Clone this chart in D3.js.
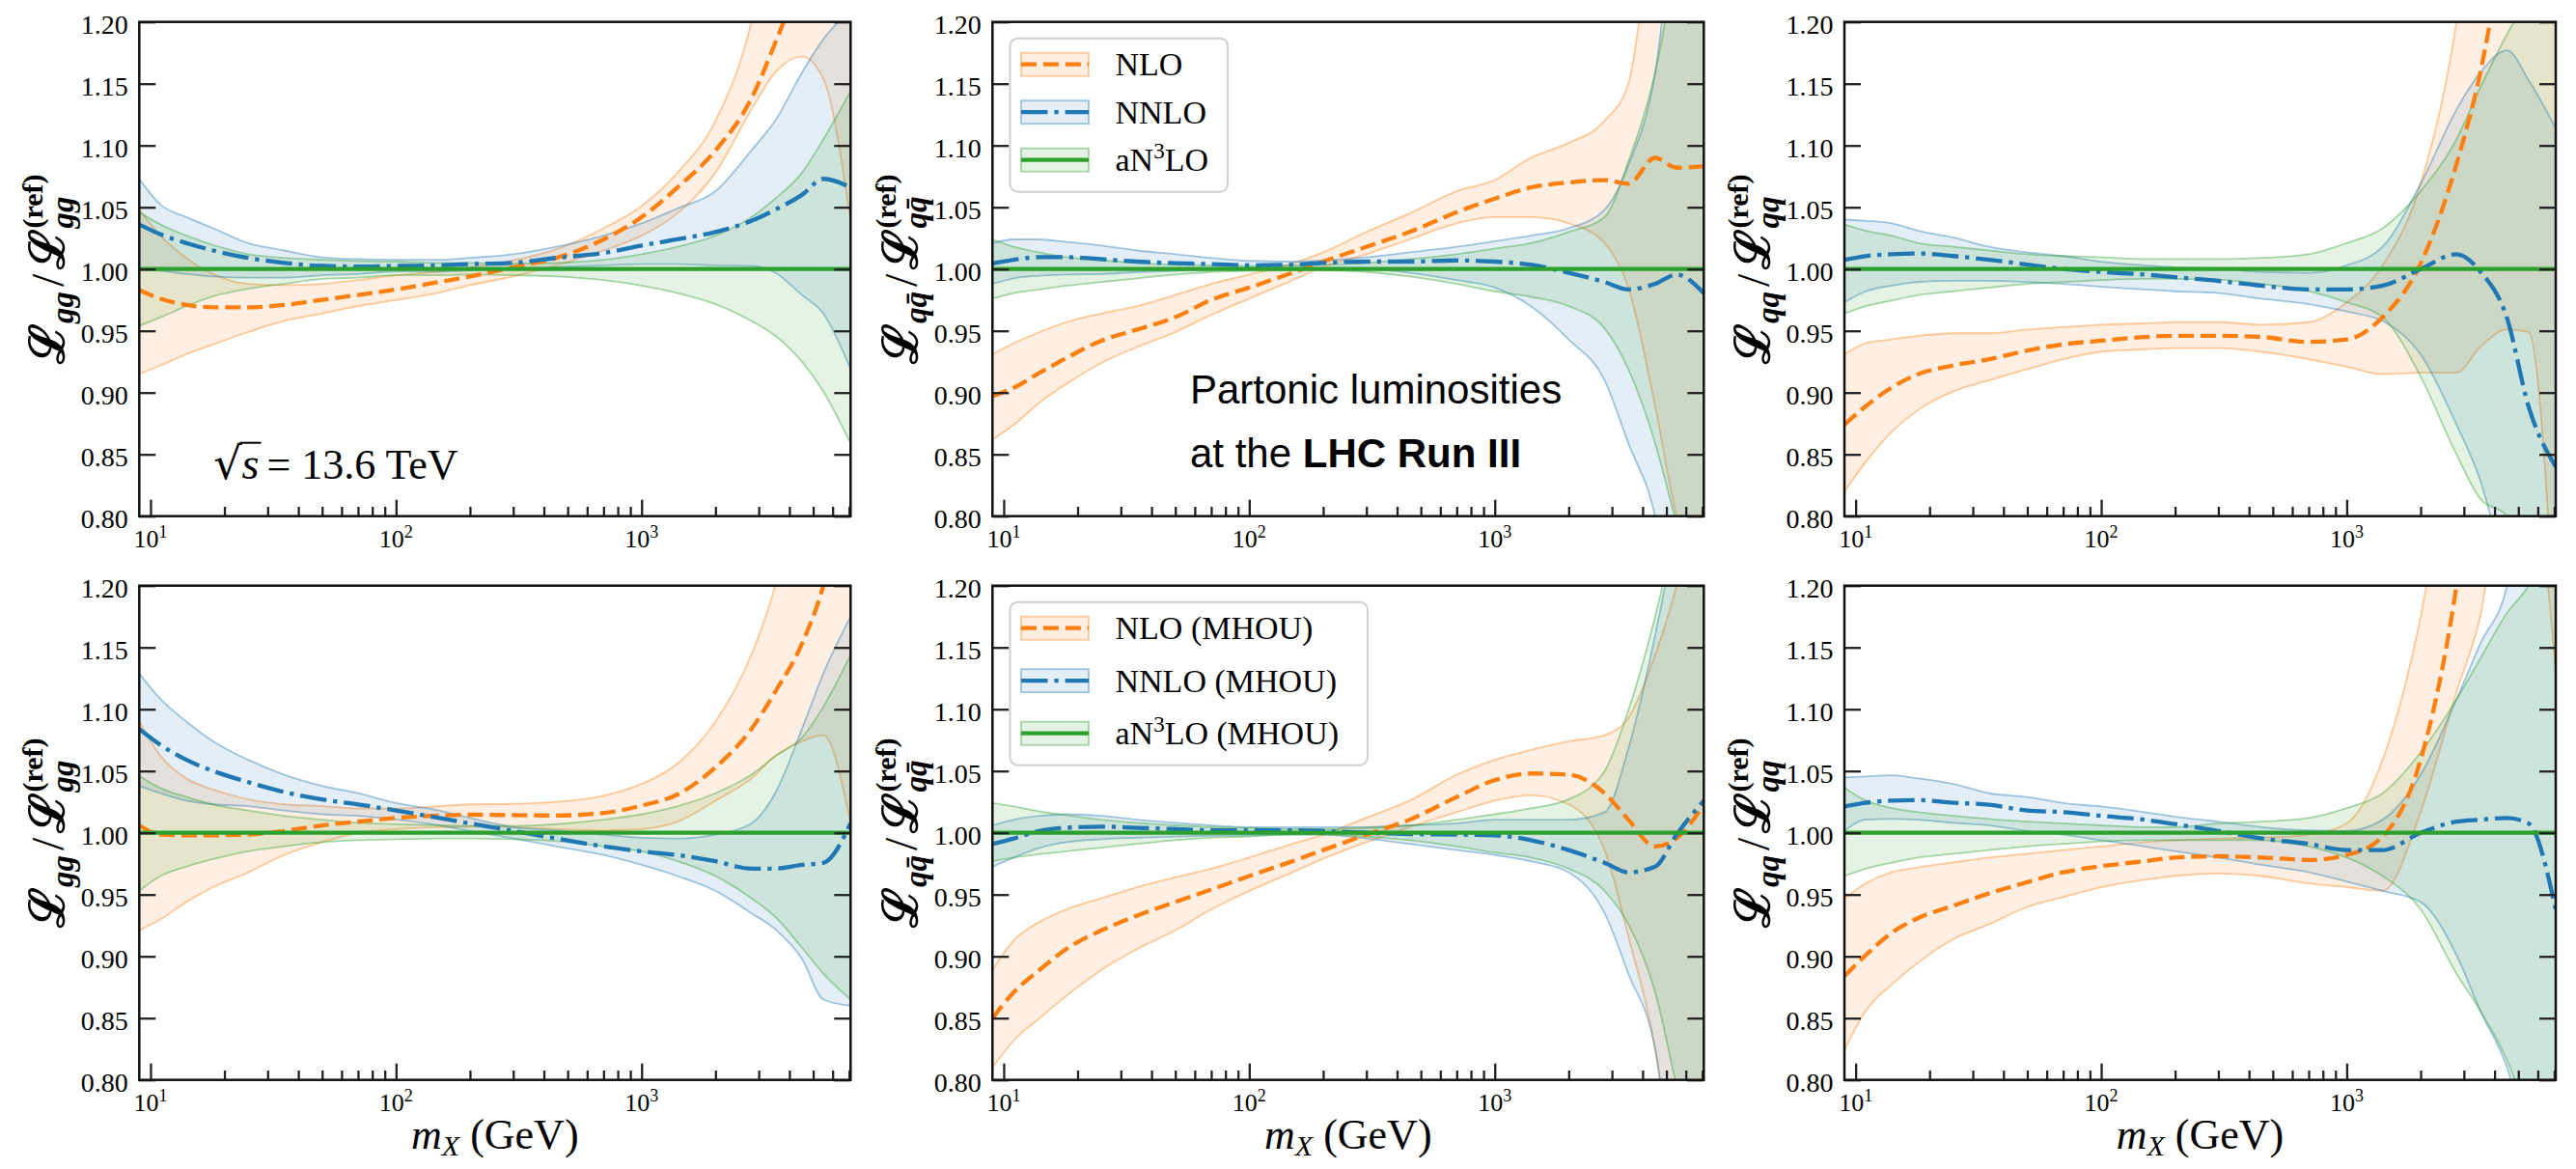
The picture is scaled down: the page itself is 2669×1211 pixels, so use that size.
<!DOCTYPE html>
<html><head><meta charset="utf-8">
<script src="https://cdn.jsdelivr.net/npm/d3@7"></script>
<style>body{margin:0;background:#fff}svg{display:block}</style>
</head><body>
<svg id="c" width="2669" height="1211"></svg>
<script>
// ---------------- DATA ----------------
const mx = [9, 11, 14, 18, 25, 35, 50, 70, 100, 150, 200, 300, 450, 700, 1000, 1400, 2000, 2800, 3500, 4500, 5500, 7100];
const ones = [1,1,1,1,1,1,1,1,1,1,1,1,1,1,1,1,1,1,1,1,1,1];

// gg (top-left)
const gg_nlo    = [0.983,0.976,0.971,0.969,0.969,0.971,0.975,0.979,0.9835,0.9895,0.994,1.0015,1.009,1.024,1.042,1.066,1.096,1.138,1.183,1.24,1.30,1.38];
const gg_nlo_hi = [1.048,1.027,1.009,0.996,0.988,0.987,0.988,0.991,0.995,0.998,1.0015,1.007,1.016,1.033,1.051,1.078,1.12,1.20,1.30,1.38,1.45,1.55];
const gg_nlo_lo = [0.915,0.922,0.931,0.939,0.949,0.958,0.964,0.970,0.975,0.981,0.987,0.994,1.003,1.015,1.027,1.045,1.078,1.129,1.159,1.172,1.154,1.039];
const gg_nnlo    = [1.036,1.028,1.021,1.015,1.009,1.005,1.0025,1.002,1.0025,1.003,1.004,1.005,1.009,1.013,1.019,1.024,1.030,1.039,1.048,1.060,1.073,1.066];
const gg_nnlo_hi = [1.073,1.052,1.042,1.033,1.021,1.015,1.0095,1.008,1.0075,1.0075,1.009,1.012,1.018,1.027,1.037,1.049,1.063,1.096,1.12,1.159,1.186,1.21];
const gg_nnlo_lo = [1.0,0.9985,0.996,0.994,0.993,0.993,0.995,0.996,0.998,0.998,0.999,1.0,1.0015,1.003,1.004,1.004,1.003,1.0025,0.997,0.979,0.964,0.919];
const gg_n3lo_hi = [1.046,1.036,1.027,1.0195,1.012,1.009,1.0075,1.0065,1.006,1.005,1.005,1.0045,1.005,1.0075,1.012,1.018,1.027,1.042,1.057,1.078,1.105,1.144];
const gg_n3lo_lo = [0.954,0.961,0.970,0.978,0.984,0.988,0.992,0.993,0.995,0.995,0.9955,0.995,0.994,0.991,0.9865,0.9805,0.9716,0.958,0.946,0.925,0.901,0.859];

// q qbar (top-middle)
const qb_nlo    = [0.897,0.904,0.916,0.928,0.942,0.951,0.961,0.975,0.985,0.997,1.006,1.018,1.030,1.046,1.057,1.066,1.070,1.072,1.069,1.090,1.082,1.083];
const qb_nlo_hi = [0.931,0.940,0.949,0.957,0.964,0.970,0.979,0.988,0.9955,1.0045,1.0135,1.030,1.045,1.063,1.072,1.090,1.102,1.120,1.150,1.30,1.40,1.50];
const qb_nlo_lo = [0.862,0.874,0.892,0.907,0.924,0.937,0.949,0.963,0.976,0.991,1.0015,1.012,1.024,1.037,1.042,1.042,1.037,1.021,0.985,0.889,0.80,0.74];
const qb_nnlo    = [1.0045,1.0075,1.0096,1.0096,1.008,1.006,1.0047,1.004,1.003,1.0035,1.005,1.006,1.006,1.007,1.006,1.0035,0.997,0.9895,0.9835,0.988,0.9955,0.9805];
const qb_nnlo_hi = [1.021,1.024,1.024,1.022,1.019,1.015,1.012,1.009,1.0066,1.006,1.007,1.0096,1.0135,1.018,1.0225,1.027,1.033,1.048,1.084,1.159,1.30,1.40];
const qb_nnlo_lo = [0.988,0.9925,0.9946,0.9955,0.996,0.9976,0.9985,0.9994,1.0,1.0005,1.0008,1.0,0.997,0.991,0.985,0.970,0.943,0.910,0.859,0.80,0.70,0.60];
const qb_n3lo_hi = [1.024,1.018,1.0135,1.0096,1.007,1.005,1.0035,1.003,1.0024,1.003,1.0035,1.005,1.008,1.012,1.0165,1.021,1.030,1.042,1.087,1.159,1.25,1.35];
const qb_n3lo_lo = [0.976,0.9805,0.9835,0.9865,0.9895,0.9925,0.9955,0.9976,0.9985,0.999,0.999,0.9976,0.994,0.988,0.982,0.9775,0.970,0.952,0.919,0.859,0.793,0.70];

// qq (top-right)
const qq_nlo    = [0.874,0.889,0.904,0.915,0.922,0.927,0.934,0.939,0.942,0.945,0.946,0.946,0.945,0.941,0.943,0.961,1.0045,1.085,1.159,1.28,1.38,1.50];
const qq_nlo_hi = [0.931,0.940,0.943,0.946,0.948,0.948,0.951,0.953,0.955,0.956,0.957,0.957,0.955,0.957,0.973,1.003,1.069,1.20,1.35,1.45,1.55,1.60];
const qq_nlo_lo = [0.820,0.844,0.868,0.886,0.901,0.910,0.919,0.927,0.933,0.935,0.936,0.936,0.933,0.927,0.921,0.915,0.916,0.916,0.937,0.951,0.949,0.70];
const qq_nnlo    = [1.0075,1.0105,1.012,1.0126,1.0105,1.0075,1.0036,1.0,0.9976,0.9955,0.9934,0.9904,0.9865,0.9835,0.9835,0.9865,1.0,1.012,0.998,0.960,0.889,0.840];
const qq_nnlo_hi = [1.040,1.039,1.037,1.031,1.0255,1.018,1.0135,1.0105,1.006,1.003,1.0015,1.0006,0.9976,0.997,1.003,1.018,1.069,1.129,1.159,1.177,1.153,1.114];
const qq_nnlo_lo = [0.973,0.982,0.9865,0.9895,0.9905,0.9905,0.9895,0.988,0.9856,0.9835,0.982,0.9805,0.976,0.9716,0.9656,0.958,0.931,0.874,0.829,0.75,0.70,0.65];
const qq_n3lo_hi = [1.036,1.031,1.027,1.021,1.018,1.015,1.012,1.0105,1.0096,1.008,1.008,1.008,1.009,1.012,1.021,1.033,1.063,1.105,1.147,1.19,1.22,1.25];
const qq_n3lo_lo = [0.964,0.970,0.9745,0.979,0.982,0.985,0.988,0.9895,0.991,0.992,0.992,0.9915,0.988,0.982,0.973,0.961,0.913,0.85,0.814,0.80,0.77,0.75];

// gg MHOU (bottom-left)
const ggm_nlo    = [1.006,0.9985,0.998,0.998,0.9985,1.0015,1.006,1.009,1.012,1.014,1.0146,1.0143,1.014,1.016,1.022,1.031,1.053,1.084,1.114,1.153,1.20,1.30];
const ggm_nlo_hi = [1.09,1.062,1.044,1.035,1.027,1.023,1.0216,1.0197,1.0197,1.0216,1.023,1.0234,1.025,1.030,1.0395,1.056,1.09,1.144,1.20,1.30,1.40,1.50];
const ggm_nlo_lo = [0.921,0.930,0.944,0.956,0.968,0.982,0.9924,1.0,1.003,1.0046,1.005,1.0046,1.003,1.002,1.003,1.009,1.026,1.044,1.062,1.074,1.079,1.0076];
const ggm_nnlo    = [1.084,1.071,1.059,1.050,1.041,1.033,1.027,1.023,1.018,1.012,1.0076,1.0015,0.9954,0.989,0.985,0.982,0.977,0.971,0.971,0.974,0.9757,1.0076];
const ggm_nnlo_hi = [1.129,1.108,1.090,1.074,1.059,1.047,1.038,1.032,1.024,1.018,1.012,1.0046,1.002,0.9985,0.996,0.9954,0.9985,1.0076,1.032,1.084,1.129,1.175];
const ggm_nnlo_lo = [1.038,1.032,1.026,1.023,1.0216,1.018,1.015,1.0137,1.0106,1.006,1.0015,0.9954,0.989,0.982,0.974,0.965,0.953,0.935,0.922,0.898,0.865,0.860];
const ggm_n3lo_hi = [1.046,1.036,1.029,1.023,1.018,1.0137,1.0106,1.008,1.007,1.006,1.0055,1.0055,1.007,1.0106,1.015,1.0216,1.032,1.047,1.062,1.077,1.102,1.144];
const ggm_n3lo_lo = [0.953,0.965,0.9726,0.9787,0.985,0.989,0.9924,0.994,0.9948,0.9954,0.9954,0.9948,0.9933,0.989,0.985,0.977,0.965,0.947,0.932,0.907,0.886,0.865];

// q qbar MHOU (bottom-middle)
const qbm_nlo    = [0.85,0.871,0.889,0.906,0.921,0.933,0.944,0.954,0.965,0.977,0.986,0.9985,1.0106,1.029,1.0426,1.048,1.047,1.032,1.0106,0.989,0.9954,1.023];
const qbm_nlo_hi = [0.889,0.913,0.928,0.938,0.947,0.956,0.964,0.971,0.980,0.991,0.9985,1.0122,1.026,1.047,1.059,1.067,1.074,1.079,1.093,1.144,1.20,1.30];
const qbm_nlo_lo = [0.81,0.832,0.85,0.868,0.889,0.906,0.921,0.938,0.953,0.968,0.979,0.9924,1.0046,1.0167,1.026,1.0304,1.023,0.986,0.916,0.825,0.70,0.60];
const qbm_nnlo    = [0.991,0.9954,1.0015,1.004,1.005,1.004,1.003,1.002,1.002,1.002,1.0015,1.0,0.999,0.9985,0.998,0.994,0.986,0.9757,0.968,0.9726,0.9985,1.026];
const qbm_nnlo_hi = [1.006,1.0106,1.0137,1.015,1.0137,1.0106,1.008,1.006,1.0046,1.0046,1.0046,1.0046,1.006,1.0076,1.0106,1.0106,1.0106,1.0167,1.068,1.16,1.25,1.40];
const qbm_nnlo_lo = [0.9726,0.980,0.9878,0.9924,0.9948,0.996,0.997,0.9976,0.998,0.9985,0.9985,0.9954,0.991,0.986,0.982,0.977,0.968,0.935,0.886,0.825,0.70,0.60];
const qbm_n3lo_hi = [1.024,1.0213,1.0173,1.0143,1.0106,1.008,1.006,1.0046,1.004,1.003,1.003,1.004,1.006,1.0106,1.015,1.0198,1.027,1.05,1.099,1.175,1.25,1.35];
const qbm_n3lo_lo = [0.977,0.980,0.9827,0.985,0.988,0.991,0.994,0.996,0.997,0.9985,0.9985,0.997,0.994,0.989,0.984,0.980,0.971,0.953,0.926,0.871,0.795,0.70];

// qq MHOU (bottom-right)
const qqm_nlo    = [0.884,0.901,0.919,0.931,0.941,0.951,0.960,0.968,0.973,0.977,0.980,0.981,0.980,0.978,0.982,0.997,1.059,1.20,1.35,1.45,1.55,1.60];
const qqm_nlo_hi = [0.947,0.959,0.968,0.972,0.976,0.980,0.983,0.986,0.989,0.9924,0.994,0.9954,0.996,0.9985,1.0076,1.059,1.175,1.35,1.45,1.55,1.60,1.60];
const qqm_nlo_lo = [0.824,0.856,0.877,0.895,0.914,0.926,0.940,0.948,0.956,0.962,0.965,0.967,0.965,0.959,0.956,0.953,1.0167,1.114,1.175,1.30,1.30,1.13];
const qqm_nnlo    = [1.0213,1.0243,1.026,1.0264,1.0243,1.0228,1.018,1.0167,1.0137,1.0106,1.007,1.0015,0.9954,0.991,0.986,0.986,1.0,1.009,1.0106,1.012,1.0076,0.938];
const qqm_nnlo_hi = [1.0447,1.0456,1.0465,1.044,1.0395,1.032,1.029,1.024,1.0213,1.0167,1.013,1.009,1.0046,1.002,1.0015,1.0106,1.047,1.108,1.153,1.20,1.30,1.40];
const qqm_nnlo_lo = [1.0015,1.0106,1.0112,1.0106,1.008,1.006,1.0015,0.9985,0.994,0.989,0.985,0.980,0.974,0.968,0.9605,0.953,0.944,0.901,0.856,0.81,0.75,0.70];
const qqm_n3lo_hi = [1.0365,1.026,1.020,1.0167,1.0137,1.0112,1.009,1.0076,1.006,1.0046,1.0046,1.0076,1.009,1.012,1.020,1.032,1.065,1.108,1.141,1.178,1.20,1.25];
const qqm_n3lo_lo = [0.965,0.971,0.9757,0.980,0.983,0.986,0.989,0.991,0.993,0.994,0.994,0.994,0.994,0.989,0.980,0.965,0.938,0.886,0.856,0.816,0.77,0.72];

const yTicks = [0.80, 0.85, 0.90, 0.95, 1.00, 1.05, 1.10, 1.15, 1.20];
const xMajor = [10, 100, 1000];
const xMajorExp = ["1", "2", "3"];
const xMinor = [20,30,40,50,60,70,80,90,200,300,400,500,600,700,800,900,2000,3000,4000,5000,6000,7000];
const legendTop = ["NLO", "NNLO", "aN3LO"];
const legendBottom = ["NLO (MHOU)", "NNLO (MHOU)", "aN3LO (MHOU)"];

const panels = [
  {row:0, col:0, ch:"gg", nlo:[gg_nlo,gg_nlo_lo,gg_nlo_hi], nnlo:[gg_nnlo,gg_nnlo_lo,gg_nnlo_hi], n3lo:[ones,gg_n3lo_lo,gg_n3lo_hi]},
  {row:0, col:1, ch:"q\u0071\u0304", nlo:[qb_nlo,qb_nlo_lo,qb_nlo_hi], nnlo:[qb_nnlo,qb_nnlo_lo,qb_nnlo_hi], n3lo:[ones,qb_n3lo_lo,qb_n3lo_hi]},
  {row:0, col:2, ch:"qq", nlo:[qq_nlo,qq_nlo_lo,qq_nlo_hi], nnlo:[qq_nnlo,qq_nnlo_lo,qq_nnlo_hi], n3lo:[ones,qq_n3lo_lo,qq_n3lo_hi]},
  {row:1, col:0, ch:"gg", nlo:[ggm_nlo,ggm_nlo_lo,ggm_nlo_hi], nnlo:[ggm_nnlo,ggm_nnlo_lo,ggm_nnlo_hi], n3lo:[ones,ggm_n3lo_lo,ggm_n3lo_hi]},
  {row:1, col:1, ch:"q\u0071\u0304", nlo:[qbm_nlo,qbm_nlo_lo,qbm_nlo_hi], nnlo:[qbm_nnlo,qbm_nnlo_lo,qbm_nnlo_hi], n3lo:[ones,qbm_n3lo_lo,qbm_n3lo_hi]},
  {row:1, col:2, ch:"qq", nlo:[qqm_nlo,qqm_nlo_lo,qqm_nlo_hi], nnlo:[qqm_nnlo,qqm_nnlo_lo,qqm_nnlo_hi], n3lo:[ones,qqm_n3lo_lo,qqm_n3lo_hi]}
];

// ---------------- LAYOUT / STYLE ----------------
const W = 737, H = 512;
const colX = [144.3, 1028.3, 1911];
const rowY = [22.7, 606.7];
const ORANGE = "#ff7f0e", BLUE = "#1f77b4", GREEN = "#2ca02c";
const SERIF = "'Liberation Serif', 'DejaVu Serif', serif";
const SANS = "'Liberation Sans', Arial, sans-serif";
const styles = [
  {c: ORANGE, dash: "16,6.9", w: 4.3},
  {c: BLUE, dash: "27.5,6.9,4.3,6.9", w: 4.3},
  {c: GREEN, dash: null, w: 4.3}
];

const svg = d3.select("#c");
const defs = svg.append("defs");
const x = d3.scaleLog().domain([9, 7100]).range([0, W]);
const y = d3.scaleLinear().domain([0.8, 1.2]).range([H, 0]);

function addLabelY(g, ch) {
  const lab = g.append("g").attr("transform", `translate(-78,${H/2}) rotate(-90)`);
  const inner = lab.append("g");
  let cx = 0;
  function piece(txt, size, fam, weight, style, dy) {
    const t = inner.append("text").attr("x", cx).attr("y", dy)
      .attr("font-size", size).attr("font-family", fam)
      .attr("font-weight", weight).attr("font-style", style).attr("fill", "#000").text(txt);
    return t.node().getComputedTextLength();
  }
  cx += piece("\u2112", 50, "'DejaVu Serif', serif", "bold", "normal", 0);
  cx += piece(ch, 33, SERIF, "bold", "italic", 10) + 5;
  cx += piece("/", 48, SERIF, "normal", "normal", 0) + 5;
  cx += piece("\u2112", 50, "'DejaVu Serif', serif", "bold", "normal", 0);
  const sx = cx;
  const w1 = piece(ch, 33, SERIF, "bold", "italic", 10);
  const w2 = piece("(ref)", 30, SERIF, "bold", "normal", -22);
  const total = sx + Math.max(w1, w2);
  inner.attr("transform", `translate(${-total/2},0)`);
}

function addLegend(g, labels, spacing) {
  const lg = g.append("g").attr("transform", "translate(18.2,17)");
  const boxW = labels[0].length > 4 ? 370.5 : 225.5;
  const boxH = 27 + spacing * 2 + 33;
  lg.append("rect").attr("width", boxW).attr("height", boxH).attr("rx", 8)
    .attr("fill", "#fff").attr("fill-opacity", 0.8).attr("stroke", "#d0d0d0").attr("stroke-width", 2);
  labels.forEach((lab, i) => {
    const cy = 27 + i * spacing;
    const s = styles[i];
    lg.append("rect").attr("x", 11.5).attr("y", cy - 12).attr("width", 70).attr("height", 24)
      .attr("fill", s.c).attr("fill-opacity", 0.12).attr("stroke", s.c).attr("stroke-opacity", 0.4).attr("stroke-width", 1.8);
    const ln = lg.append("line").attr("x1", 11.5).attr("x2", 81.5).attr("y1", cy).attr("y2", cy)
      .attr("stroke", s.c).attr("stroke-width", s.w);
    if (s.dash) ln.attr("stroke-dasharray", s.dash);
    const t = lg.append("text").attr("x", 109).attr("y", cy + 11.5)
      .attr("font-family", SERIF).attr("font-size", 34).attr("fill", "#000");
    if (lab.startsWith("aN3LO")) {
      t.append("tspan").text("aN");
      t.append("tspan").attr("font-size", 23).attr("dy", -13).text("3");
      t.append("tspan").attr("dy", 13).text("LO" + lab.slice(5));
    } else {
      t.text(lab);
    }
  });
}

panels.forEach((p, i) => {
  const g = svg.append("g").attr("transform", `translate(${colX[p.col]},${rowY[p.row]})`);
  defs.append("clipPath").attr("id", "clip" + i).append("rect").attr("width", W).attr("height", H);
  const plot = g.append("g").attr("clip-path", `url(#clip${i})`);
  const sets = [p.nlo, p.nnlo, p.n3lo];
  const area = d3.area().x(d => x(d.m)).y0(d => y(d.lo)).y1(d => y(d.hi)).curve(d3.curveMonotoneX);
  const lineLo = d3.line().x(d => x(d.m)).y(d => y(d.lo)).curve(d3.curveMonotoneX);
  const lineHi = d3.line().x(d => x(d.m)).y(d => y(d.hi)).curve(d3.curveMonotoneX);
  const lineMid = d3.line().x(d => x(d.m)).y(d => y(d.mid)).curve(d3.curveMonotoneX);
  const pts = sets.map(([mid, lo, hi]) => mx.map((m, j) => ({m, mid: mid[j], lo: lo[j], hi: hi[j]})));
  pts.forEach((d, k) => {
    const s = styles[k];
    plot.append("path").datum(d).attr("d", area).attr("fill", s.c).attr("fill-opacity", 0.12).attr("stroke", "none");
    [lineLo, lineHi].forEach(L => plot.append("path").datum(d).attr("d", L)
      .attr("fill", "none").attr("stroke", s.c).attr("stroke-opacity", 0.4).attr("stroke-width", 1.8));
  });
  pts.forEach((d, k) => {
    const s = styles[k];
    const path = plot.append("path").datum(d).attr("d", lineMid).attr("fill", "none")
      .attr("stroke", s.c).attr("stroke-width", s.w);
    if (s.dash) path.attr("stroke-dasharray", s.dash);
  });

  const axB = g.append("g").attr("transform", `translate(0,${H})`)
    .call(d3.axisBottom(x).tickValues(xMajor).tickSize(-17).tickFormat(""));
  const axBm = g.append("g").attr("transform", `translate(0,${H})`)
    .call(d3.axisBottom(x).tickValues(xMinor).tickSize(-9.7).tickFormat(""));
  const axL = g.append("g").call(d3.axisLeft(y).tickValues(yTicks).tickSize(-17).tickPadding(11.6).tickFormat(d3.format(".2f")));
  const axR = g.append("g").attr("transform", `translate(${W},0)`)
    .call(d3.axisRight(y).tickValues(yTicks).tickSize(-17).tickFormat(""));
  [axB, axBm, axL, axR].forEach(a => {
    a.select(".domain").remove();
    a.selectAll(".tick line").attr("stroke", "#222").attr("stroke-width", 2.3);
  });
  axL.selectAll("text").attr("font-family", SERIF).attr("font-size", 28).attr("fill", "#000").attr("dy", "0.41em");

  xMajor.forEach((v, k) => {
    const t = g.append("text").attr("x", x(v)).attr("y", H + 32).attr("text-anchor", "middle")
      .attr("font-family", SERIF).attr("font-size", 26).attr("fill", "#000");
    t.append("tspan").text("10");
    t.append("tspan").attr("font-size", 18).attr("dy", -10).text(xMajorExp[k]);
  });

  g.append("rect").attr("width", W).attr("height", H).attr("fill", "none").attr("stroke", "#111").attr("stroke-width", 2.5);

  addLabelY(g, p.ch);

  if (p.row === 1) {
    const t = g.append("text").attr("x", W / 2).attr("y", H + 71).attr("text-anchor", "middle")
      .attr("font-family", SERIF).attr("font-size", 44).attr("fill", "#000");
    t.append("tspan").attr("font-style", "italic").text("m");
    t.append("tspan").attr("font-style", "italic").attr("font-size", 30).attr("dy", 7).text("X");
    t.append("tspan").attr("dy", -7).text("\u00a0(GeV)");
  }

  if (p.row === 0 && p.col === 0) {
    const x0 = 77, yb = 473;
    const t1 = g.append("text").attr("x", x0).attr("y", yb).attr("font-family", "'DejaVu Serif', serif")
      .attr("font-size", 46).attr("fill", "#000").text("\u221a");
    const w1 = t1.node().getComputedTextLength();
    const t2 = g.append("text").attr("x", x0 + w1).attr("y", yb).attr("font-family", SERIF)
      .attr("font-style", "italic").attr("font-size", 46).attr("fill", "#000").text("s");
    const w2 = t2.node().getComputedTextLength();
    g.append("line").attr("x1", x0 + w1 - 2).attr("x2", x0 + w1 + w2 + 2)
      .attr("y1", yb - 37).attr("y2", yb - 37).attr("stroke", "#000").attr("stroke-width", 2);
    g.append("text").attr("x", x0 + w1 + w2 + 8).attr("y", yb).attr("font-family", SERIF)
      .attr("font-size", 44).attr("fill", "#000").text("= 13.6 TeV");
  }

  if (p.col === 1) {
    addLegend(g, p.row === 0 ? legendTop : legendBottom, p.row === 0 ? 49.5 : 54.5);
  }
  if (p.row === 0 && p.col === 1) {
    g.append("text").attr("x", 204.7).attr("y", 395.3).attr("font-family", SANS)
      .attr("font-size", 42).attr("fill", "#000").text("Partonic luminosities");
    const t = g.append("text").attr("x", 204.7).attr("y", 461.3).attr("font-family", SANS)
      .attr("font-size", 42).attr("fill", "#000");
    t.append("tspan").text("at the ");
    t.append("tspan").attr("font-weight", "bold").text("LHC Run III");
  }
});
</script>
</body></html>
